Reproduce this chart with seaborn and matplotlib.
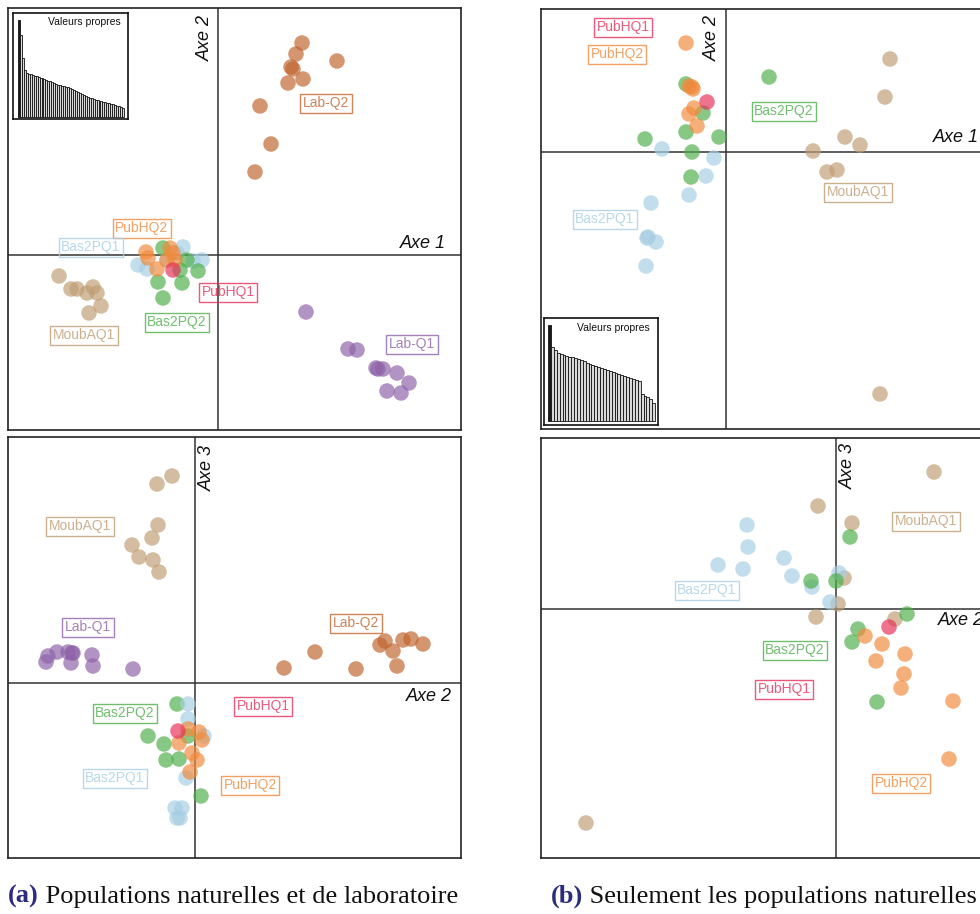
import matplotlib
matplotlib.use('Agg')
import matplotlib.pyplot as plt
import matplotlib.transforms as mtransforms
import seaborn as sns
import pandas as pd

sns.set_style('white')
plt.rcParams['font.family'] = ['Liberation Sans', 'DejaVu Sans']

# population colours
colors = {
    'Lab-Q2': '#c0652e',
    'Lab-Q1': '#8e62a8',
    'MoubAQ1': '#bf9d73',
    'Bas2PQ1': '#a6cee3',
    'Bas2PQ2': '#4daf4a',
    'PubHQ2': '#f08a3c',
    'PubHQ1': '#e8305a',
}

# ---- (a) natural + lab populations, axes 1 x 2
lab_q2_a12_x = [84, 78, 119, 73, 75, 85, 70, 42, 53, 37]
lab_q2_a12_y = [212, 201, 194, 188, 186, 176, 172, 149, 111, 83]
lab_q1_a12_x = [88, 130, 139, 158, 160, 165, 179, 191, 169, 183]
lab_q1_a12_y = [-57, -94, -95, -113, -114, -114, -118, -128, -136, -138]
moub_a12_x = [-159, -147, -141, -131, -125, -121, -117, -129]
moub_a12_y = [-21, -34, -34, -38, -32, -38, -51, -58]
bas1_a12_x = [-35, -80, -71, -16, -25, -51, -41]
bas1_a12_y = [8, -10, -14, -5, -6, -5, 2]
bas2_a12_x = [-55, -31, -20, -60, -36, -55, -38]
bas2_a12_y = [7, -5, -16, -27, -28, -43, -15]
pub2_a12_x = [-72, -70, -48, -45, -51, -43, -61]
pub2_a12_y = [3, -3, 7, 2, -5, -5, -14]
pub1_a12_x = [-45]
pub1_a12_y = [-15]

# ---- (a) axes 2 x 3
moub_a23_x = [-23, -38, -37, -43, -63, -56, -42, -36]
moub_a23_y = [207, 199, 158, 145, 138, 126, 123, 111]
lab_q1_a23_x = [-149, -147, -138, -127, -123, -122, -124, -103, -102, -62]
lab_q1_a23_y = [21, 27, 31, 31, 30, 30, 20, 28, 17, 14]
lab_q2_a23_x = [89, 120, 161, 185, 190, 198, 208, 216, 228, 202]
lab_q2_a23_y = [15, 31, 14, 38, 42, 32, 43, 44, 39, 17]
bas2_a23_x = [-18, -47, -31, -29, -16, -7, 6]
bas2_a23_y = [-21, -53, -61, -77, -76, -53, -113]
bas1_a23_x = [-7, -7, 9, -9, -20, -13, -15, -18]
bas1_a23_y = [-21, -36, -53, -95, -125, -125, -135, -135]
pub2_a23_x = [-7, 4, 7, -16, -3, 2, -5]
pub2_a23_y = [-46, -49, -57, -60, -70, -77, -89]
pub1_a23_x = [-17]
pub1_a23_y = [-48]

# ---- (b) natural populations only, axes 1 x 2
pub2_b12_x = [-40, -37, -33, -34, -32, -37, -29]
pub2_b12_y = [109, 66, 63, 65, 44, 38, 26]
pub1_b12_x = [-19]
pub1_b12_y = [50]
bas2_b12_x = [-40, 43, -23, -40, -81, -7, -34, -35]
bas2_b12_y = [68, 75, 39, 20, 13, 15, 0, -25]
bas1_b12_x = [-64, -12, -20, -37, -75, -78, -79, -70, -80]
bas1_b12_y = [3, -6, -24, -43, -51, -85, -86, -90, -114]
moub_b12_x = [164, 159, 119, 134, 87, 101, 111, 154]
moub_b12_y = [93, 55, 15, 7, 1, -20, -18, -242]

# ---- (b) axes 2 x 3
moub_b23_x = [98, -18, 16, 8, 2, -20, 59, -250]
moub_b23_y = [137, 103, 86, 31, 5, -8, -10, -214]
bas1_b23_x = [-89, -88, -118, -93, -52, -44, -24, 3, -6]
bas1_b23_y = [84, 62, 44, 40, 51, 33, 22, 36, 7]
bas2_b23_x = [14, -25, 0, 71, 22, 16, 41]
bas2_b23_y = [72, 28, 28, -5, -20, -33, -93]
pub2_b23_x = [29, 46, 69, 40, 68, 65, 117, 113]
pub2_b23_y = [-27, -35, -45, -52, -65, -79, -92, -150]
pub1_b23_x = [53]
pub1_b23_y = [-18]

# eigenvalues (scree insets)
eig_a = [97, 82, 59, 47, 44, 43, 43, 42, 41, 41, 40, 39, 39, 38, 37, 36, 36, 35,
         34, 33, 32, 32, 31, 31, 30, 30, 29, 28, 27, 26, 25, 24, 23, 22, 21, 20,
         19, 19, 18, 17, 17, 16, 16, 15, 15, 14, 14, 13, 13, 12, 11, 11, 10, 9]
eig_b = [96, 74, 71, 68, 67, 66, 65, 64, 64, 63, 62, 61, 60, 58, 57, 56, 55, 54,
         53, 52, 51, 50, 49, 48, 47, 46, 45, 44, 43, 42, 41, 40, 27, 25, 24, 22, 18]

# label positions (name, x, y)
labels_a12 = [('Lab-Q2', 108, 152), ('PubHQ2', -76, 27), ('Bas2PQ1', -127, 8),
              ('PubHQ1', 10, -37), ('Bas2PQ2', -41, -67), ('MoubAQ1', -134, -80),
              ('Lab-Q1', 194, -89)]
labels_a23 = [('MoubAQ1', -115, 157), ('Lab-Q1', -107, 56), ('Lab-Q2', 161, 60),
              ('PubHQ1', 68, -23), ('Bas2PQ2', -70, -30), ('Bas2PQ1', -80, -95),
              ('PubHQ2', 55, -102)]
labels_b12 = [('PubHQ1', -103, 125), ('PubHQ2', -109, 98), ('Bas2PQ2', 58, 41),
              ('MoubAQ1', 132, -40), ('Bas2PQ1', -121, -67)]
labels_b23 = [('MoubAQ1', 90, 88), ('Bas2PQ1', -129, 19), ('Bas2PQ2', -41, -41),
              ('PubHQ1', -52, -80), ('PubHQ2', 65, -174)]


def make_df(groups):
    parts = []
    for name, xs, ys in groups:
        parts.append(pd.DataFrame({'x': xs, 'y': ys, 'pop': name}))
    return pd.concat(parts, ignore_index=True)


def draw_panel(ax, df, xlim, ylim, labels):
    sns.scatterplot(data=df, x='x', y='y', hue='pop', palette=colors, s=125,
                    alpha=0.68, linewidth=0, legend=False, ax=ax, zorder=3)
    ax.axhline(0, color='#333333', lw=1.1, zorder=1)
    ax.axvline(0, color='#333333', lw=1.1, zorder=1)
    ax.set_xlim(xlim)
    ax.set_ylim(ylim)
    ax.set_xticks([])
    ax.set_yticks([])
    ax.set_xlabel('')
    ax.set_ylabel('')
    for sp in ax.spines.values():
        sp.set_linewidth(1.2)
        sp.set_color('#222222')
    for name, lx, ly in labels:
        ax.text(lx, ly, name, color=colors[name], alpha=0.8, fontsize=10,
                ha='center', va='center', zorder=4,
                bbox=dict(boxstyle='square,pad=0.18', fc='none',
                          ec=colors[name], lw=1.0, alpha=0.8))


def axis_names(ax, hname, hx, hdy, hva, vname, vtop, vdx, vha):
    tr = mtransforms.blended_transform_factory(ax.transAxes, ax.transData)
    ax.annotate(hname, xy=(hx, 0), xycoords=tr, xytext=(0, hdy),
                textcoords='offset points', ha='right', va=hva,
                fontsize=13, style='italic', color='#111111')
    tr2 = mtransforms.blended_transform_factory(ax.transData, ax.transAxes)
    ax.annotate(vname, xy=(0, vtop), xycoords=tr2, xytext=(vdx, 0),
                textcoords='offset points', ha=vha, va='top', rotation=90,
                fontsize=13, style='italic', color='#111111')


def scree(fig, rect, vals, pad_left, pad_right, ylim, title_xy):
    ins = fig.add_axes(rect)
    idx = list(range(len(vals)))
    pal = ['#1a1a1a'] + ['#d9d9d9'] * (len(vals) - 1)
    sns.barplot(x=idx, y=vals, hue=idx, palette=pal, legend=False, width=1.0,
                edgecolor='#111111', linewidth=0.6, ax=ins)
    ins.set_xlim(-0.5 - pad_left, len(vals) - 0.5 + pad_right)
    ins.set_ylim(ylim)
    ins.set_xticks([])
    ins.set_yticks([])
    ins.set_xlabel('')
    ins.set_ylabel('')
    for sp in ins.spines.values():
        sp.set_linewidth(1.2)
        sp.set_color('#111111')
    ins.text(title_xy[0], title_xy[1], 'Valeurs propres', transform=ins.transAxes,
             ha='right', va='top', fontsize=7.5, color='#111111')


W, H = 980, 914
fig = plt.figure(figsize=(W / 100, H / 100), dpi=100)

ax_a12 = fig.add_axes([8 / W, (H - 430) / H, 453 / W, 422 / H])
ax_a23 = fig.add_axes([8 / W, (H - 858) / H, 453 / W, 421 / H])
ax_b12 = fig.add_axes([541 / W, (H - 429) / H, 453 / W, 420 / H])
ax_b23 = fig.add_axes([541 / W, (H - 858) / H, 453 / W, 420 / H])

df_a12 = make_df([('Lab-Q2', lab_q2_a12_x, lab_q2_a12_y), ('Lab-Q1', lab_q1_a12_x, lab_q1_a12_y),
                  ('MoubAQ1', moub_a12_x, moub_a12_y), ('Bas2PQ1', bas1_a12_x, bas1_a12_y),
                  ('Bas2PQ2', bas2_a12_x, bas2_a12_y), ('PubHQ2', pub2_a12_x, pub2_a12_y),
                  ('PubHQ1', pub1_a12_x, pub1_a12_y)])
df_a23 = make_df([('MoubAQ1', moub_a23_x, moub_a23_y), ('Lab-Q1', lab_q1_a23_x, lab_q1_a23_y),
                  ('Lab-Q2', lab_q2_a23_x, lab_q2_a23_y), ('Bas2PQ2', bas2_a23_x, bas2_a23_y),
                  ('Bas2PQ1', bas1_a23_x, bas1_a23_y), ('PubHQ2', pub2_a23_x, pub2_a23_y),
                  ('PubHQ1', pub1_a23_x, pub1_a23_y)])
df_b12 = make_df([('MoubAQ1', moub_b12_x, moub_b12_y), ('Bas2PQ1', bas1_b12_x, bas1_b12_y),
                  ('Bas2PQ2', bas2_b12_x, bas2_b12_y), ('PubHQ2', pub2_b12_x, pub2_b12_y),
                  ('PubHQ1', pub1_b12_x, pub1_b12_y)])
df_b23 = make_df([('MoubAQ1', moub_b23_x, moub_b23_y), ('Bas2PQ1', bas1_b23_x, bas1_b23_y),
                  ('Bas2PQ2', bas2_b23_x, bas2_b23_y), ('PubHQ2', pub2_b23_x, pub2_b23_y),
                  ('PubHQ1', pub1_b23_x, pub1_b23_y)])

draw_panel(ax_a12, df_a12, (-210, 243), (-175, 247), labels_a12)
draw_panel(ax_a23, df_a23, (-187, 266), (-175, 246), labels_a23)
draw_panel(ax_b12, df_b12, (-185, 268), (-277, 143), labels_b12)
draw_panel(ax_b23, df_b23, (-295, 158), (-249, 171), labels_b23)

axis_names(ax_a12, 'Axe 1', 0.967, 2, 'bottom', 'Axe 2', 0.983, -3, 'right')
axis_names(ax_a23, 'Axe 2', 0.98, -3.5, 'top', 'Axe 3', 0.981, 3, 'left')
axis_names(ax_b12, 'Axe 1', 0.967, 4, 'bottom', 'Axe 2', 0.986, -4, 'right')
axis_names(ax_b23, 'Axe 2', 0.978, -2.5, 'top', 'Axe 3', 0.988, 3, 'left')

scree(fig, [13 / W, (H - 119) / H, 115 / W, 106 / H], eig_a, 2.5, 2.0, (-2, 104), (0.94, 0.96))
scree(fig, [544 / W, (H - 425) / H, 114 / W, 107 / H], eig_b, 1.4, 1.0, (-4, 103), (0.93, 0.95))

# captions: bold navy letter, then the text right after it
cap_kw = dict(fontsize=19, family=['Liberation Serif', 'DejaVu Serif'])
ta = fig.text(8 / W, (H - 908) / H, '(a)', color='#2b2b80', fontweight='bold', va='bottom', **cap_kw)
ax_a23.annotate(' Populations naturelles et de laboratoire', xy=(1, 0), xycoords=ta,
                va='bottom', ha='left', color='#111111', annotation_clip=False, **cap_kw)
tb = fig.text(551 / W, (H - 908) / H, '(b)', color='#2b2b80', fontweight='bold', va='bottom', **cap_kw)
ax_b23.annotate(' Seulement les populations naturelles', xy=(1, 0), xycoords=tb,
                va='bottom', ha='left', color='#111111', annotation_clip=False, **cap_kw)

fig.savefig('out.png', dpi=100)
